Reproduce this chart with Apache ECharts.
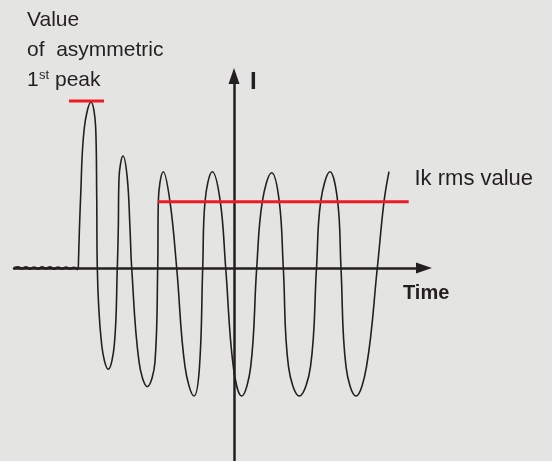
<!DOCTYPE html>
<html>
<head>
<meta charset="utf-8">
<script src="https://cdn.jsdelivr.net/npm/echarts@6/dist/echarts.min.js"></script>
<style>
html,body{margin:0;padding:0;background:#e4e4e3;}
#c{width:552px;height:461px;}
</style>
</head>
<body>
<div id="c"></div>
<script>
// Pre-fault noise (time, current), arbitrary units
const noiseT = [-220,-216,-212,-208,-204,-200,-196,-192,-188,-184,-180,-176,-172,-168,-164,-160,-156];
const noiseI = [0,0.8,-0.6,0.7,-0.8,0.6,-0.7,0.8,-0.6,0.7,-0.9,0.6,-0.7,0.5,-0.8,0.4,-1.6];

// Short-circuit current waveform (time, current)
const waveT = [-155.7,-153.3,-149.7,-143,-138.3,-137.3,-136.7,-132.3,-125.7,-119.7,-116.7,-115.7,-115,-111,-106.7,-104,-102.3,
  -95,-86.7,-79,-76.3,-75.7,-70.7,-64,-57.3,-49,-40,-34.5,-31.3,-29,-21.7,-13.7,-8.3,
  -0.7,7.7,16.7,22.7,28.3,37.7,45.3,49.3,54.5,65.3,76.5,82.5,86.7,96,103.7,107,112,122,132.5,143.3,150,155];
const waveI = [0,73,140,166,140,73,0,-77,-101.3,-77,0,40,89.7,112,89.7,39.7,0,
  -93.7,-118.7,-93.7,0,66.3,96.3,66.3,0,-98.7,-128,-98.7,0,66.3,96.3,66.3,0,
  -98.7,-128,-98.7,0,66.3,95.3,66.3,0,-98.7,-128,-98.7,0,66.3,96.3,66.3,0,-98.7,-128,-98.7,0,66.3,96.3];

// Reference levels
const peakLineT = [-165,-130];
const peakLevel = 167;
const rmsLineT = [-76,174.7];
const rmsLevel = 66.3;

// Texts
const peakLabel1 = 'Value';
const peakLabel2 = 'of  asymmetric';
const peakLabel3a = '1';
const peakLabel3b = 'st';
const peakLabel3c = 'peak';
const rmsLabel = 'Ik rms value';
const xAxisLabel = 'Time';
const yAxisLabel = 'I';

const zip = (a, b) => a.map((v, i) => [v, b[i]]);
const INK = '#231f20';
const RED = '#ed1c24';
const FONT = '"Liberation Sans", Arial, Helvetica, sans-serif';

const chart = echarts.init(document.getElementById('c'), null, {renderer: 'canvas'});
const txt = (s, x, y, size, weight) => ({
  type: 'text', x: x, y: y, silent: true,
  style: {text: s, fill: INK, fontSize: size, fontWeight: weight || 'normal', fontFamily: FONT, align: 'left', verticalAlign: 'middle'}
});

chart.setOption({
  backgroundColor: '#e4e4e3',
  animation: false,
  grid: {left: 14, right: 128, top: 76, bottom: 0, containLabel: false},
  xAxis: {
    type: 'value', min: -220, max: 190,
    axisLine: {onZero: true, symbol: ['none', 'triangle'], symbolSize: [11, 16], lineStyle: {color: INK, width: 2.5}},
    axisTick: {show: false}, axisLabel: {show: false}, splitLine: {show: false}
  },
  yAxis: {
    type: 'value', min: -193, max: 192,
    axisLine: {onZero: true, symbol: ['none', 'triangle'], symbolSize: [11, 16], lineStyle: {color: INK, width: 2.5}},
    axisTick: {show: false}, axisLabel: {show: false}, splitLine: {show: false}
  },
  series: [
    {type: 'line', data: zip(noiseT, noiseI), showSymbol: false, smooth: 0.3,
     lineStyle: {color: INK, width: 2.4}, z: 3},
    {type: 'line', data: zip(waveT, waveI), showSymbol: false, smooth: 0.4,
     lineStyle: {color: INK, width: 1.6}, z: 3},
    {type: 'line', data: peakLineT.map(t => [t, peakLevel]), showSymbol: false,
     lineStyle: {color: RED, width: 3}, z: 4},
    {type: 'line', data: rmsLineT.map(t => [t, rmsLevel]), showSymbol: false,
     lineStyle: {color: RED, width: 3}, z: 4}
  ],
  graphic: [
    txt(peakLabel1, 27, 20.3, 21),
    txt(peakLabel2, 27, 50.3, 21),
    txt(peakLabel3a, 27, 80.3, 21),
    txt(peakLabel3b, 39, 75.5, 13),
    txt(peakLabel3c, 55, 80.3, 21),
    txt(rmsLabel, 414.5, 178.9, 22),
    txt(xAxisLabel, 403, 293.7, 20, 'bold'),
    txt(yAxisLabel, 250, 82.3, 24, 'bold')
  ]
});
</script>
</body>
</html>
